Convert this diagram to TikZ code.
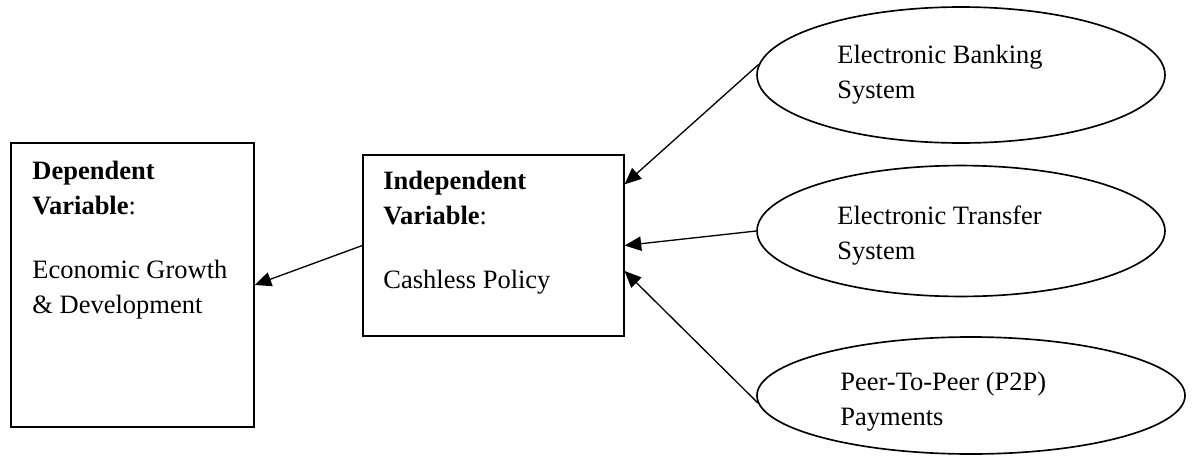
\documentclass[tikz,border=0pt]{standalone}
\usepackage{fontspec}
\setmainfont{Liberation Serif}
\usetikzlibrary{shapes.geometric, arrows.meta}
\tikzset{
    box/.style={draw, rectangle, line width=0.6pt, inner sep=0pt},
    oval/.style={draw, ellipse, line width=0.75pt, inner sep=0pt},
    txt/.style={anchor=north west, inner sep=0pt, align=left,
    	font=\fontsize{12}{15.85}\selectfont},
    link/.style={-{Triangle[length=7.5pt, width=6.5pt]}, line width=0.6pt}
}

\begin{document}
\begin{tikzpicture}[x=0.453pt, y=-0.453pt]
	\useasboundingbox (0, 0) rectangle (1196, 457);
	\node (dep) [box, minimum width=110.1pt, minimum height=128.7pt] at (132.5, 285) {};
	\node (indep) [box, minimum width=118.2pt, minimum height=82pt] at (493.5, 245.5) {};
	\node (bank) [oval, minimum width=184.8pt, minimum height=61.6pt] at (961, 75) {};
	\node (transfer) [oval, minimum width=184.8pt, minimum height=59.3pt] at (961, 231) {};
	\node (ptop) [oval, minimum width=193.9pt, minimum height=53pt] at (971, 395.5) {};
	
	\node (deptxt) [txt] at (32, 161) {\textbf{Dependent}\\\textbf{Variable}:\\[13pt]Economic Growth\\\& Development};
	\node (indeptxt) [txt] at (383, 171) {\textbf{Independent}\\\textbf{Variable}:\\[13pt]Cashless Policy};
	\node (banktxt) [txt] at (837, 45) {Electronic Banking\\System};
	\node (transfertxt) [txt] at (837, 205) {Electronic Transfer\\System};
	\node (ptoptxt) [txt] at (840, 372) {Peer-To-Peer (P2P)\\Payments};
	
	\draw [link] (indep.west) -- (dep.east);
	\draw [link] (bank.177.8) -- (indep.25.6);
	\draw [link] (transfer.west) -- (indep.east);
	\draw [link] (ptop.182) -- (indep.349.4);
\end{tikzpicture}
\end{document}
